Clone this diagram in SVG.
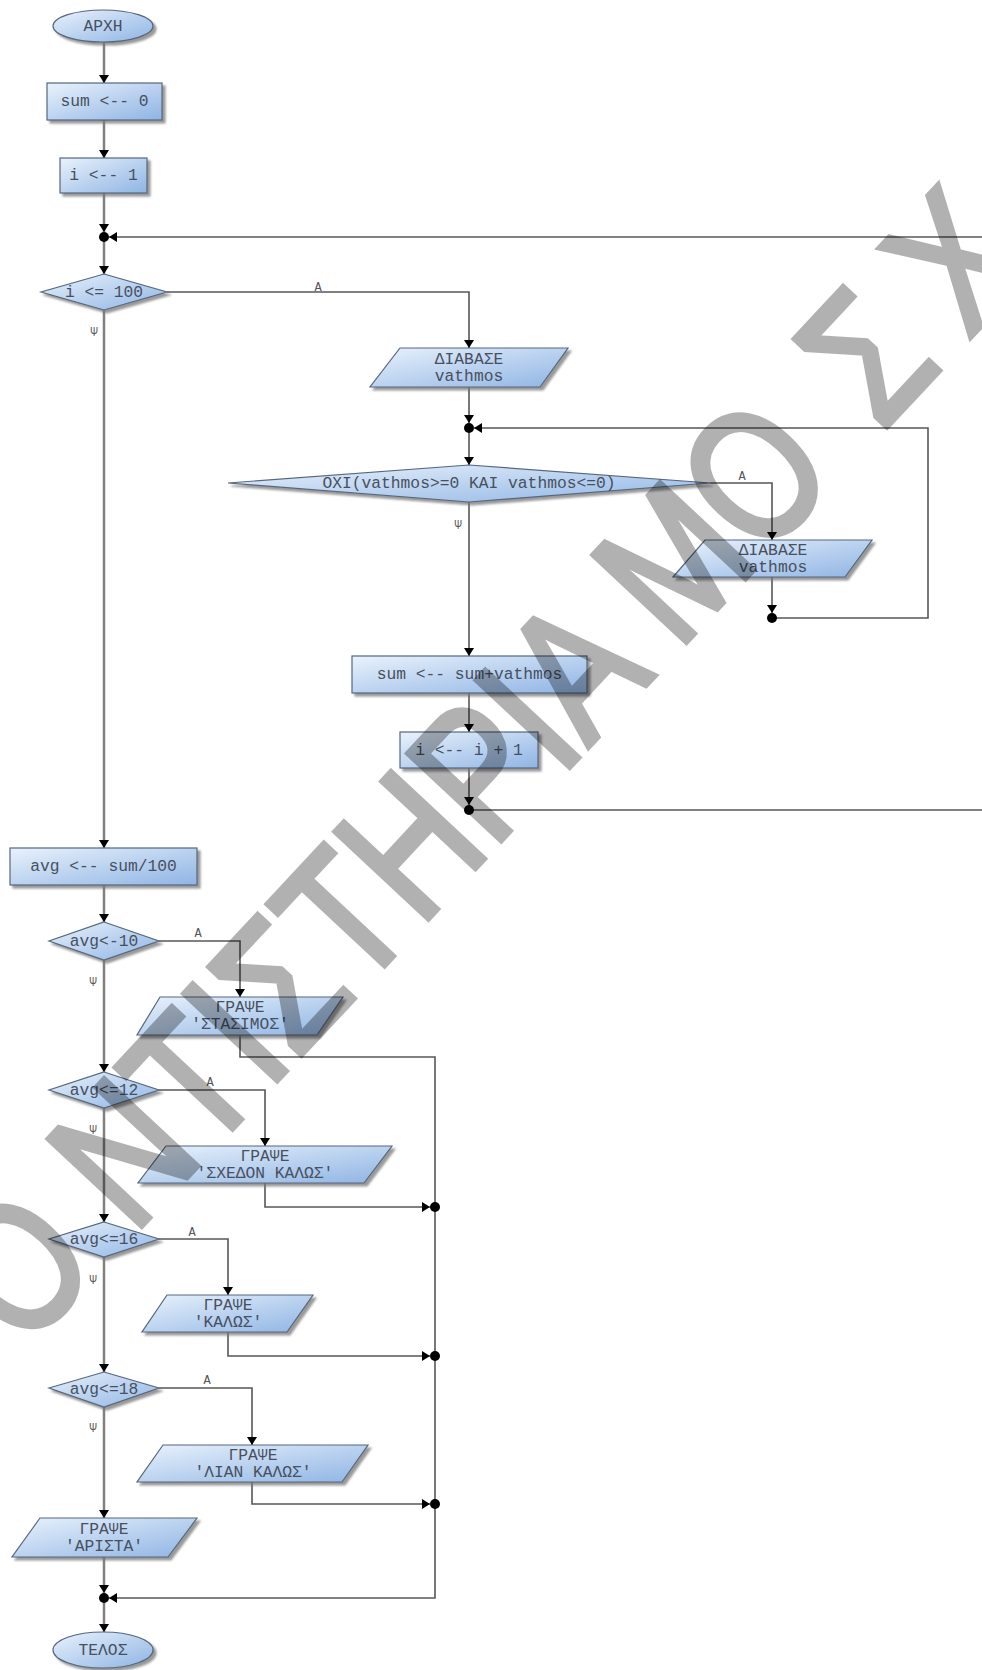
<svg xmlns="http://www.w3.org/2000/svg" width="982" height="1670" viewBox="0 0 982 1670">
<defs>
<linearGradient id="g" x1="0" y1="0" x2="1" y2="1">
<stop offset="0" stop-color="#e9f2fc"/>
<stop offset="1" stop-color="#8fb4e4"/>
</linearGradient>
<filter id="sh" x="-10%" y="-20%" width="130%" height="160%">
<feDropShadow dx="3" dy="3" stdDeviation="1.3" flood-color="#777" flood-opacity="0.75"/>
</filter>
<marker id="ar" viewBox="0 0 8 10" markerWidth="8" markerHeight="10" refX="8" refY="5" orient="auto" markerUnits="userSpaceOnUse">
<path d="M0,0 L8,5 L0,10 z" fill="#000"/>
</marker>
<style>
.n{fill:url(#g);stroke:#56677e;stroke-width:1.2;filter:url(#sh)}
.t{font-family:"Liberation Mono","DejaVu Sans Mono",monospace;font-size:16.3px;fill:#475060;text-anchor:middle;dominant-baseline:central}
.m{stroke:#808080;stroke-width:2.5;fill:none}
.s{stroke:#575757;stroke-width:1.6;fill:none}
.l{font-family:"Liberation Mono","DejaVu Sans Mono",monospace;font-size:12px;fill:#555;text-anchor:middle}
.d{fill:#000}
.wm{font-family:"Liberation Sans",Arial,sans-serif;font-weight:normal;font-size:185px;fill:#000;stroke:#000;stroke-width:6;stroke-linejoin:miter}
</style>
</defs>
<rect width="982" height="1670" fill="#fff"/>

<g id="connectors">
<path class="m" d="M104,42 V83" marker-end="url(#ar)"/>
<path class="m" d="M104,120 V158" marker-end="url(#ar)"/>
<path class="m" d="M104,193 V232" marker-end="url(#ar)"/>
<path class="m" d="M104,237 V274" marker-end="url(#ar)"/>
<path class="m" d="M104,310 V848" marker-end="url(#ar)"/>
<path class="m" d="M104,885 V922" marker-end="url(#ar)"/>
<path class="m" d="M104,960 V1072" marker-end="url(#ar)"/>
<path class="m" d="M104,1108 V1222" marker-end="url(#ar)"/>
<path class="m" d="M104,1257 V1372" marker-end="url(#ar)"/>
<path class="m" d="M104,1407 V1518" marker-end="url(#ar)"/>
<path class="m" d="M104,1557 V1593" marker-end="url(#ar)"/>
<path class="m" d="M104,1598 V1632" marker-end="url(#ar)"/>

<path class="s" d="M982,237 H109" marker-end="url(#ar)"/>
<path class="s" d="M167,292 H469 V348" marker-end="url(#ar)"/>
<path class="s" d="M469,387 V423" marker-end="url(#ar)"/>
<path class="s" d="M469,428 V465" marker-end="url(#ar)"/>
<path class="s" d="M710,483 H772 V540" marker-end="url(#ar)"/>
<path class="s" d="M772,577 V613" marker-end="url(#ar)"/>
<path class="s" d="M772,618 H928 V428 H474" marker-end="url(#ar)"/>
<path class="s" d="M469,502 V656" marker-end="url(#ar)"/>
<path class="s" d="M469,693 V732" marker-end="url(#ar)"/>
<path class="s" d="M469,768 V805" marker-end="url(#ar)"/>
<path class="s" d="M469,810 H982"/>

<path class="s" d="M159,941 H240 V997" marker-end="url(#ar)"/>
<path class="s" d="M240,1035 V1057 H435 V1598 H109" marker-end="url(#ar)"/>
<path class="s" d="M159,1090 H265 V1146" marker-end="url(#ar)"/>
<path class="s" d="M265,1183 V1207 H430" marker-end="url(#ar)"/>
<path class="s" d="M159,1239 H228 V1295" marker-end="url(#ar)"/>
<path class="s" d="M228,1332 V1356 H430" marker-end="url(#ar)"/>
<path class="s" d="M159,1388 H252 V1445" marker-end="url(#ar)"/>
<path class="s" d="M252,1482 V1504 H430" marker-end="url(#ar)"/>

<circle class="d" cx="104" cy="237" r="5"/>
<circle class="d" cx="469" cy="428" r="5"/>
<circle class="d" cx="772" cy="618" r="5"/>
<circle class="d" cx="469" cy="810" r="5"/>
<circle class="d" cx="435" cy="1207" r="5"/>
<circle class="d" cx="435" cy="1356" r="5"/>
<circle class="d" cx="435" cy="1504" r="5"/>
<circle class="d" cx="104" cy="1598" r="5"/>

<text class="l" x="318" y="291">Α</text>
<text class="l" x="742" y="480">Α</text>
<text class="l" x="198" y="937">Α</text>
<text class="l" x="210" y="1086">Α</text>
<text class="l" x="192" y="1236">Α</text>
<text class="l" x="207" y="1384">Α</text>
<text class="l" x="94" y="336">Ψ</text>
<text class="l" x="458" y="529">Ψ</text>
<text class="l" x="93" y="986">Ψ</text>
<text class="l" x="93" y="1134">Ψ</text>
<text class="l" x="93" y="1284">Ψ</text>
<text class="l" x="93" y="1432">Ψ</text>
</g>

<g id="start"><ellipse class="n" cx="103" cy="26" rx="50" ry="16"/><text class="t" x="103" y="26">ΑΡΧΗ</text></g>
<g id="sum0"><rect class="n" x="47" y="83" width="115" height="37"/><text class="t" x="104.5" y="101.5">sum &lt;-- 0</text></g>
<g id="i1"><rect class="n" x="60" y="158" width="87" height="35"/><text class="t" x="103.5" y="175.5">i &lt;-- 1</text></g>
<g id="cond100"><polygon class="n" points="104,274 167,292 104,310 41,292"/><text class="t" x="104" y="292">i &lt;= 100</text></g>
<g id="read1"><polygon class="n" points="400,348 568,348 540,387 370,387"/><text class="t" x="469" y="359">ΔΙΑΒΑΣΕ</text><text class="t" x="469" y="376">vathmos</text></g>
<g id="condV"><polygon class="n" points="469,465 710,483 469,502 228,483"/><text class="t" x="469" y="483">OXI(vathmos&gt;=0 KAI vathmos&lt;=0)</text></g>
<g id="read2"><polygon class="n" points="705,540 872,540 845,577 673,577"/><text class="t" x="773" y="550">ΔΙΑΒΑΣΕ</text><text class="t" x="773" y="567">vathmos</text></g>
<g id="sumadd"><rect class="n" x="352" y="656" width="235" height="37"/><text class="t" x="469.5" y="674.5">sum &lt;-- sum+vathmos</text></g>
<g id="inc"><rect class="n" x="400" y="732" width="138" height="36"/><text class="t" x="469" y="750">i &lt;-- i + 1</text></g>
<g id="avg"><rect class="n" x="10" y="848" width="187" height="37"/><text class="t" x="103.5" y="866.5">avg &lt;-- sum/100</text></g>
<g id="c10"><polygon class="n" points="104,922 159,941 104,960 49,941"/><text class="t" x="104" y="941">avg&lt;-10</text></g>
<g id="w1"><polygon class="n" points="160,997 343,997 317,1035 137,1035"/><text class="t" x="240" y="1007">ΓΡΑΨΕ</text><text class="t" x="240" y="1024">'ΣΤΑΣΙΜΟΣ'</text></g>
<g id="c12"><polygon class="n" points="104,1072 159,1090 104,1108 49,1090"/><text class="t" x="104" y="1090">avg&lt;=12</text></g>
<g id="w2"><polygon class="n" points="166,1146 392,1146 364,1183 138,1183"/><text class="t" x="265" y="1156">ΓΡΑΨΕ</text><text class="t" x="265" y="1173">'ΣΧΕΔΟΝ ΚΑΛΩΣ'</text></g>
<g id="c16"><polygon class="n" points="104,1222 159,1239 104,1257 49,1239"/><text class="t" x="104" y="1239">avg&lt;=16</text></g>
<g id="w3"><polygon class="n" points="167,1295 313,1295 287,1332 142,1332"/><text class="t" x="228" y="1305">ΓΡΑΨΕ</text><text class="t" x="228" y="1322">'ΚΑΛΩΣ'</text></g>
<g id="c18"><polygon class="n" points="104,1372 159,1388 104,1407 49,1388"/><text class="t" x="104" y="1389">avg&lt;=18</text></g>
<g id="w4"><polygon class="n" points="163,1445 368,1445 342,1482 137,1482"/><text class="t" x="253" y="1455">ΓΡΑΨΕ</text><text class="t" x="253" y="1472">'ΛΙΑΝ ΚΑΛΩΣ'</text></g>
<g id="w5"><polygon class="n" points="40,1518 197,1518 168,1557 12,1557"/><text class="t" x="104" y="1529">ΓΡΑΨΕ</text><text class="t" x="104" y="1546">'ΑΡΙΣΤΑ'</text></g>
<g id="end"><ellipse class="n" cx="103" cy="1650" rx="50" ry="18"/><text class="t" x="103" y="1650">ΤΕΛΟΣ</text></g>

<g id="watermark" opacity="0.3">
<text class="wm" transform="translate(24 1352) rotate(-47) scale(0.8 1)" x="0" y="0">Ο<tspan dx="56">ΝΤΙΣΤΗΡΙΑ ΜΟ</tspan><tspan dx="75">Σ</tspan><tspan dx="45">Χ</tspan></text>
</g>
</svg>
